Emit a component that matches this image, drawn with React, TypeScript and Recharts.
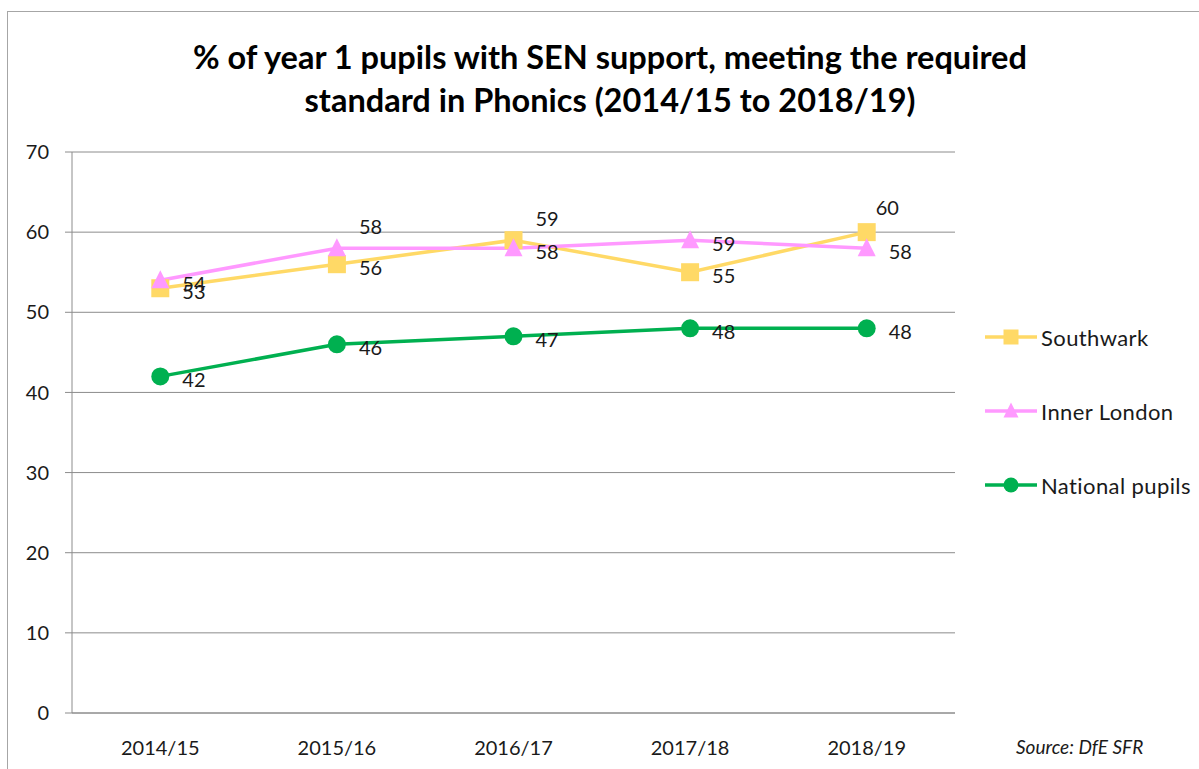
import React from 'react';
import {
  LineChart,
  Line,
  XAxis,
  YAxis,
  CartesianGrid,
  LabelList,
} from 'recharts';

// Reference chart: SEN support pupils meeting the phonics standard
const CATEGORIES = ['2014/15', '2015/16', '2016/17', '2017/18', '2018/19'];
const SOUTHWARK = [53, 56, 59, 55, 60];
const INNER_LONDON = [54, 58, 58, 59, 58];
const NATIONAL = [42, 46, 47, 48, 48];
const Y_TICKS = [0, 10, 20, 30, 40, 50, 60, 70];

// where each data label sits relative to its point
const SOUTHWARK_LABEL_POS = ['right', 'right', 'aboveRight', 'right', 'above'];
const INNER_LONDON_LABEL_POS = ['right', 'aboveRight', 'right', 'right', 'right'];
const NATIONAL_LABEL_POS = ['right', 'right', 'right', 'right', 'right'];

const FONT = 'Lato, "Open Sans", sans-serif';
const AXIS_GREY = '#8c8c8c';
const TEXT = '#1a1a1a';

const SERIES = [
  { key: 'southwark', name: 'Southwark', color: '#FFD966', shape: 'square', labelPos: SOUTHWARK_LABEL_POS },
  { key: 'innerLondon', name: 'Inner London', color: '#FF99FF', shape: 'triangle', labelPos: INNER_LONDON_LABEL_POS },
  { key: 'national', name: 'National pupils', color: '#00B050', shape: 'circle', labelPos: NATIONAL_LABEL_POS },
];

const chartData = CATEGORIES.map((year, i) => ({
  year,
  idx: i,
  southwark: SOUTHWARK[i],
  innerLondon: INNER_LONDON[i],
  national: NATIONAL[i],
}));

const X_DOMAIN = [-0.5, CATEGORIES.length - 0.5];
const CENTER_TICKS = CATEGORIES.map((_, i) => i);
const EDGE_TICKS = CATEGORIES.map((_, i) => i - 0.5).concat(CATEGORIES.length - 0.5);

function Marker({ cx, cy, shape, color, size }: any) {
  if (cx == null || cy == null) return null;
  const h = size / 2;
  if (shape === 'square') {
    return <rect x={cx - h} y={cy - h} width={size} height={size} fill={color} />;
  }
  if (shape === 'triangle') {
    return (
      <polygon
        points={`${cx},${cy - h - 1} ${cx + h},${cy + h - 1} ${cx - h},${cy + h - 1}`}
        fill={color}
      />
    );
  }
  return <circle cx={cx} cy={cy} r={h} fill={color} />;
}

function makeLabel(positions: string[]) {
  return (props: any) => {
    const { x, y, value, index } = props;
    const pos = positions[index];
    let dx = 22;
    let dy = 3;
    if (pos === 'aboveRight') dy = -22;
    if (pos === 'above') {
      dx = 9;
      dy = -25;
    }
    return (
      <text
        x={x + dx}
        y={y + dy}
        fontSize={20}
        fontFamily={FONT}
        fill={TEXT}
        dominantBaseline="central"
      >
        {value}
      </text>
    );
  };
}

function LegendBox() {
  return (
    <div
      style={{
        position: 'absolute',
        left: 985,
        top: 300,
        fontFamily: FONT,
        fontSize: 22,
        letterSpacing: 0.4,
        color: TEXT,
      }}
    >
      {SERIES.map((s) => (
        <div key={s.key} style={{ display: 'flex', alignItems: 'center', height: 74 }}>
          <svg width={52} height={20}>
            <line x1={0} y1={10} x2={52} y2={10} stroke={s.color} strokeWidth={3.5} />
            <Marker cx={26} cy={10} shape={s.shape} color={s.color} size={15} />
          </svg>
          <span style={{ marginLeft: 4 }}>{s.name}</span>
        </div>
      ))}
    </div>
  );
}

export default function App() {
  return (
    <div
      style={{
        position: 'absolute',
        left: 0,
        top: 0,
        width: 1199,
        height: 769,
        overflow: 'hidden',
        background: '#fff',
      }}
    >
      <div
        style={{
          position: 'absolute',
          left: 7,
          top: 11,
          width: 1300,
          height: 900,
          border: '1px solid #a6a6a6',
        }}
      />
      <div
        style={{
          position: 'absolute',
          left: 0,
          top: 35,
          width: 1220,
          textAlign: 'center',
          fontFamily: FONT,
          fontWeight: 700,
          fontSize: 32.5,
          lineHeight: '43px',
          color: '#000',
        }}
      >
        % of year 1 pupils with SEN support, meeting the required
        <br />
        standard in Phonics (2014/15 to 2018/19)
      </div>

      <LineChart
        width={1199}
        height={769}
        data={chartData}
        margin={{ top: 152, right: 244, bottom: 0, left: 12 }}
        style={{ position: 'absolute', left: 0, top: 0 }}
      >
        <CartesianGrid horizontal vertical={false} stroke={AXIS_GREY} strokeWidth={1} />
        <XAxis
          xAxisId="edges"
          dataKey="idx"
          type="number"
          domain={X_DOMAIN}
          ticks={EDGE_TICKS}
          tick={false}
          tickSize={7}
          tickLine={{ stroke: AXIS_GREY }}
          axisLine={false}
          height={0}
        />
        <XAxis
          dataKey="idx"
          type="number"
          domain={X_DOMAIN}
          ticks={CENTER_TICKS}
          tickFormatter={(i: number) => CATEGORIES[i]}
          height={56}
          tickLine={false}
          tickSize={0}
          tickMargin={28}
          axisLine={{ stroke: AXIS_GREY }}
          tick={{ fontSize: 20, fontFamily: FONT, fill: TEXT }}
          interval={0}
        />
        <YAxis
          domain={[0, 70]}
          ticks={Y_TICKS}
          width={60}
          tickSize={7}
          tickMargin={16}
          tickLine={{ stroke: AXIS_GREY }}
          axisLine={{ stroke: AXIS_GREY }}
          tick={{ fontSize: 20, fontFamily: FONT, fill: TEXT }}
          interval={0}
        />
        {SERIES.map((s) => (
          <Line
            key={s.key}
            dataKey={s.key}
            name={s.name}
            stroke={s.color}
            strokeWidth={3.5}
            isAnimationActive={false}
            dot={(p: any) => (
              <Marker key={`${s.key}-${p.index}`} cx={p.cx} cy={p.cy} shape={s.shape} color={s.color} size={18} />
            )}
            activeDot={false}
          >
            <LabelList dataKey={s.key} content={makeLabel(s.labelPos)} />
          </Line>
        ))}
      </LineChart>

      <LegendBox />

      <div
        style={{
          position: 'absolute',
          left: 1016,
          top: 735,
          fontFamily: FONT,
          fontStyle: 'italic',
          fontSize: 19,
          color: TEXT,
        }}
      >
        Source: DfE SFR
      </div>
    </div>
  );
}
